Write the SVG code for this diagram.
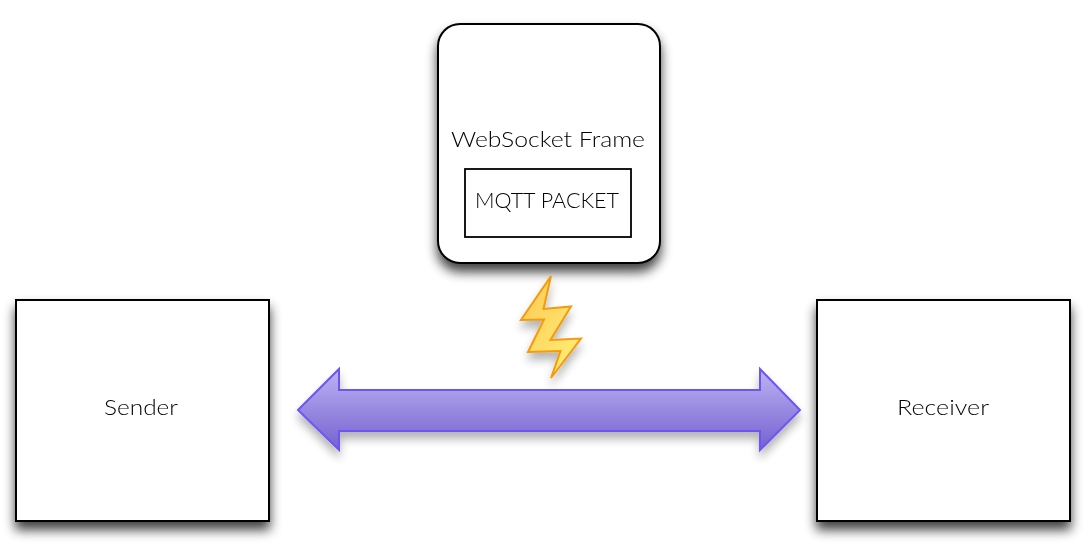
<svg xmlns="http://www.w3.org/2000/svg" width="1089" height="545" viewBox="0 0 1089 545">
<style>
.box{fill:#fff;stroke:#000;stroke-width:2}
.inner{fill:#fff;stroke:#000;stroke-width:1.8}
text{font-family:"Lato","Liberation Sans",sans-serif;font-size:22px;fill:#000;text-anchor:middle;font-weight:300;opacity:.99}
</style>
<defs>
<filter id="shadow" x="-15%" y="-15%" width="130%" height="135%"><feGaussianBlur in="SourceAlpha" stdDeviation="6"/><feOffset dy="8"/><feComponentTransfer><feFuncA type="linear" slope="0.75"/></feComponentTransfer><feMerge><feMergeNode/><feMergeNode in="SourceGraphic"/></feMerge></filter>
<filter id="soft" x="-20%" y="-30%" width="140%" height="170%"><feGaussianBlur in="SourceAlpha" stdDeviation="5"/><feOffset dy="7"/><feComponentTransfer><feFuncA type="linear" slope="0.3"/></feComponentTransfer><feMerge><feMergeNode/><feMergeNode in="SourceGraphic"/></feMerge></filter>
<linearGradient id="arrowFill" x1="0" y1="0" x2="0" y2="1"><stop offset="0" stop-color="#bdb3f3"/><stop offset="1" stop-color="#7561cf"/></linearGradient>
<linearGradient id="boltFill" x1="0" y1="0" x2="1" y2="1"><stop offset="0" stop-color="#fdc752"/><stop offset="1" stop-color="#fff27a"/></linearGradient>
</defs>
<g id="connectors">
<path id="link" d="M298 410L339 369V390H760V369L800 410L760 450V431H339V450Z" fill="url(#arrowFill)" stroke="#6a57f5" stroke-width="2" stroke-linejoin="miter" filter="url(#soft)"/>
</g>
<g id="frame">
<rect class="box" x="438" y="24" width="222" height="239" rx="22" filter="url(#shadow)"/>
<text x="548" y="147" textLength="194" lengthAdjust="spacingAndGlyphs">WebSocket Frame</text>
</g>
<g id="packet">
<rect class="inner" x="465" y="169" width="166" height="68"/>
<text x="547" y="208" textLength="144" lengthAdjust="spacingAndGlyphs">MQTT PACKET</text>
</g>
<g id="bolt">
<path d="M551 276L543.5 309L571 306.5L550.5 340L581 338.5L551 378L560.5 351L528 352L544 319.5L521 320Z" fill="url(#boltFill)" stroke="#f39a0c" stroke-width="2" stroke-linejoin="miter" filter="url(#soft)"/>
</g>
<g id="sender">
<rect class="box" x="16" y="300" width="253" height="221" filter="url(#shadow)"/>
<text x="141" y="415" textLength="74" lengthAdjust="spacingAndGlyphs">Sender</text>
</g>
<g id="receiver">
<rect class="box" x="817" y="300" width="253" height="221" filter="url(#shadow)"/>
<text x="943" y="415" textLength="92" lengthAdjust="spacingAndGlyphs">Receiver</text>
</g>
</svg>
